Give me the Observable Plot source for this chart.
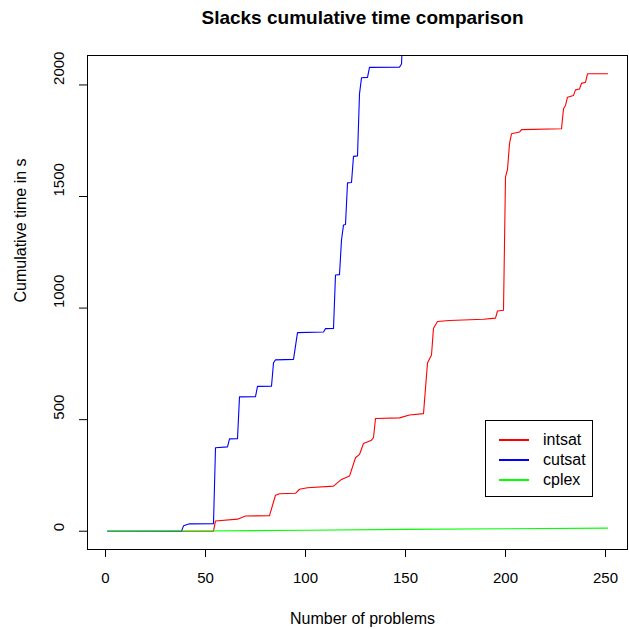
<!DOCTYPE html>
<html>
<head>
<meta charset="utf-8">
<script src="https://cdn.jsdelivr.net/npm/d3@7"></script>
<script src="https://cdn.jsdelivr.net/npm/@observablehq/plot@0.6"></script>
<style>
  html, body { margin: 0; padding: 0; background: white; }
  #wrap { position: relative; width: 629px; height: 629px; font-family: "Liberation Sans", Arial, Helvetica, sans-serif; }
  #legend { position: absolute; left: 485px; top: 420px; width: 106px; height: 75px; border: 1px solid black; background: white; }
  .row { position: absolute; left: 0; height: 20px; display: flex; align-items: center; font-size: 16px; }
  .sw { display: inline-block; width: 30px; height: 2.6px; margin-left: 13px; margin-right: 14px; }
</style>
</head>
<body>
<div id="wrap"></div>
<script>
// Chart text
const title = "Slacks cumulative time comparison";
const xLabel = "Number of problems";
const yLabel = "Cumulative time in s";
const xTicks = [0, 50, 100, 150, 200, 250];
const yTicks = [0, 500, 1000, 1500, 2000];
const seriesNames = ["intsat", "cutsat", "cplex"];
const seriesColors = ["#ff0000", "#0000ff", "#00ff00"];

// intsat (red)
const intsatX = [1, 54, 55, 66, 70, 82, 85, 87, 95, 97, 101, 114, 118, 122, 125, 127, 129, 133, 134, 135, 147, 152, 159, 161, 163, 164, 166, 172, 189, 195, 196, 199, 200, 201, 202, 203, 207, 208, 228, 229, 230, 231, 234, 235, 237, 238, 240, 241, 251];
const intsatY = [0, 0, 46, 54, 68, 70, 161, 168, 170, 188, 195, 202, 232, 247, 329, 344, 393, 408, 420, 505, 508, 521, 527, 754, 790, 910, 940, 944, 950, 955, 987, 990, 1588, 1621, 1737, 1781, 1789, 1800, 1804, 1893, 1908, 1945, 1953, 1978, 1982, 2007, 2012, 2050, 2050];

// cutsat (blue) - leaves the plot region at the top after ~148
const cutsatX = [1, 38, 39, 42, 54, 55, 61, 62, 66, 67, 75, 76, 83, 84, 85, 94, 96, 109, 110, 114, 115, 117, 118, 119, 120, 121, 123, 124, 126, 127, 128, 131, 132, 147, 148, 149];
const cutsatY = [0, 0, 24, 33, 34, 374, 378, 414, 415, 602, 603, 649, 650, 755, 768, 770, 890, 893, 908, 909, 1148, 1150, 1305, 1372, 1375, 1561, 1563, 1680, 1682, 1960, 2032, 2034, 2079, 2080, 2094, 2300];

// cplex (green)
const cplexX = [1, 50, 100, 150, 200, 251];
const cplexY = [0, 1, 4, 8, 11, 14];

const toRows = (xs, ys, name) => xs.map((x, i) => ({x, y: ys[i], name}));
const intsat = toRows(intsatX, intsatY, "intsat");
const cutsat = toRows(cutsatX, cutsatY, "cutsat");
const cplex = toRows(cplexX, cplexY, "cplex");

const font = "'Liberation Sans', Arial, Helvetica, sans-serif";

const chart = Plot.plot({
  width: 629,
  height: 629,
  marginLeft: 87,
  marginRight: 2,
  marginTop: 55,
  marginBottom: 80,
  style: {fontFamily: font, fontSize: "15px", background: "white", color: "black"},
  x: {domain: [-9, 261]},
  y: {domain: [-82, 2132]},
  color: {domain: seriesNames, range: seriesColors},
  marks: [
    Plot.line(intsat, {x: "x", y: "y", stroke: "name", strokeWidth: 1.1, clip: true}),
    Plot.line(cutsat, {x: "x", y: "y", stroke: "name", strokeWidth: 1.1, clip: true}),
    Plot.line(cplex, {x: "x", y: "y", stroke: "name", strokeWidth: 1.1, clip: true}),
    Plot.frame({stroke: "black", strokeWidth: 1}),
    Plot.axisX({ticks: xTicks, tickSize: 8, tickPadding: 15, label: null, fontSize: 15}),
    Plot.axisY({ticks: yTicks, tickSize: 8, tickFormat: () => "", label: null}),
    Plot.text(yTicks, {y: d => d, text: d => String(d), frameAnchor: "left", dx: -28, rotate: -90, fontSize: 15}),
    Plot.text([title], {text: d => d, frameAnchor: "top", lineAnchor: "middle", dy: -38, dx: 5, fontWeight: "bold", fontSize: 19}),
    Plot.text([xLabel], {text: d => d, frameAnchor: "bottom", lineAnchor: "middle", dy: 69, dx: 5, fontSize: 16}),
    Plot.text([yLabel], {text: d => d, frameAnchor: "left", dx: -67, rotate: -90, fontSize: 16})
  ]
});

const wrap = document.getElementById("wrap");
wrap.appendChild(chart);

// legend
const legend = document.createElement("div");
legend.id = "legend";
seriesNames.forEach((name, i) => {
  const row = document.createElement("div");
  row.className = "row";
  row.style.top = (9 + i * 20) + "px";
  const sw = document.createElement("span");
  sw.className = "sw";
  sw.style.background = seriesColors[i];
  const label = document.createElement("span");
  label.textContent = name;
  row.appendChild(sw);
  row.appendChild(label);
  legend.appendChild(row);
});
wrap.appendChild(legend);
</script>
</body>
</html>
